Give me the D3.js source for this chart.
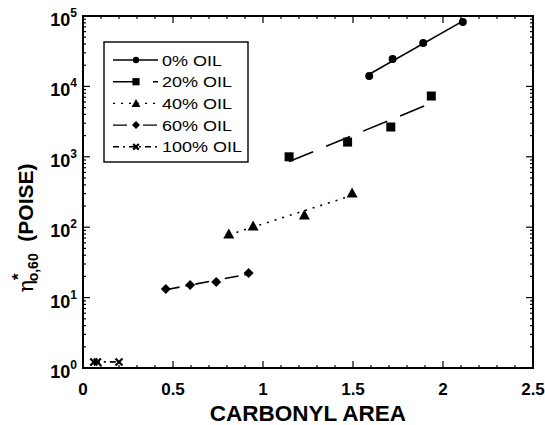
<!DOCTYPE html>
<html>
<head>
<meta charset="utf-8">
<script src="https://cdn.jsdelivr.net/npm/d3@7"></script>
<style>
  body { margin: 0; background: #fff; }
  text { font-family: "Liberation Sans", Arial, sans-serif; }
</style>
</head>
<body>
<div id="vis-holder"></div>
<script>
// values
const seriesNames = ["0% OIL", "20% OIL", "40% OIL", "60% OIL", "100% OIL"];
const x0 = [1.59, 1.72, 1.89, 2.11];
const y0 = [14000, 24500, 41500, 82000];
const x20 = [1.145, 1.47, 1.71, 1.935];
const y20 = [1000, 1620, 2650, 7300];
const x40 = [0.81, 0.945, 1.23, 1.495];
const y40 = [80, 104, 149, 306];
const x60 = [0.46, 0.595, 0.74, 0.92];
const y60 = [13.2, 15.1, 16.7, 22.3];
const x100 = [0.06, 0.08, 0.2];
const y100 = [1.22, 1.22, 1.22];
const xTicks = [0, 0.5, 1, 1.5, 2, 2.5];
const yDecades = [0, 1, 2, 3, 4, 5];

const width = 545, height = 425;
const margin = { top: 16, right: 12, bottom: 57, left: 83 };

const svg = d3.select("#vis-holder").append("svg")
  .attr("width", width).attr("height", height);

const x = d3.scaleLinear().domain([0, 2.5]).range([margin.left, width - margin.right]);
const y = d3.scaleLog().domain([1, 1e5]).range([height - margin.bottom, margin.top]);

const series = [
  { name: seriesNames[0], xs: x0, ys: y0, sym: "circle", dash: null },
  { name: seriesNames[1], xs: x20, ys: y20, sym: "square", dash: "26,14" },
  { name: seriesNames[2], xs: x40, ys: y40, sym: "triangle", dash: "2,6" },
  { name: seriesNames[3], xs: x60, ys: y60, sym: "diamond", dash: "14,6,4,6" },
  { name: seriesNames[4], xs: x100, ys: y100, sym: "cross", dash: "6,4,2,4" }
];

// frame
const x1 = x.range()[0], x2 = x.range()[1], yb = y.range()[0], yt = y.range()[1];
svg.append("rect")
  .attr("x", x1).attr("y", yt).attr("width", x2 - x1).attr("height", yb - yt)
  .attr("fill", "none").attr("stroke", "#000").attr("stroke-width", 2);

// inward ticks
const ticks = svg.append("g").attr("stroke", "#000");
d3.range(0, 2.501, 0.1).forEach(v => {
  const major = Math.abs(v * 2 - Math.round(v * 2)) < 1e-6;
  const len = major ? 7 : 3;
  ticks.append("line").attr("x1", x(v)).attr("x2", x(v)).attr("y1", yb).attr("y2", yb - len).attr("stroke-width", 1.2);
  ticks.append("line").attr("x1", x(v)).attr("x2", x(v)).attr("y1", yt).attr("y2", yt + len).attr("stroke-width", 1.2);
});
yDecades.slice(0, -1).forEach(d => {
  d3.range(1, 10).forEach(m => {
    const v = m * Math.pow(10, d);
    const len = m === 1 ? 7 : 3;
    ticks.append("line").attr("x1", x1).attr("x2", x1 + len).attr("y1", y(v)).attr("y2", y(v)).attr("stroke-width", 1.2);
    ticks.append("line").attr("x1", x2).attr("x2", x2 - len).attr("y1", y(v)).attr("y2", y(v)).attr("stroke-width", 1.2);
  });
});

// tick labels
svg.append("g").selectAll("text").data(xTicks).join("text")
  .attr("x", d => x(d)).attr("y", yb + 27)
  .attr("text-anchor", "middle").attr("font-size", 17).attr("font-weight", "bold")
  .text(d => d);

const yl = svg.append("g").selectAll("text").data(yDecades).join("text")
  .attr("x", x1 - 6).attr("y", d => y(Math.pow(10, d)) + 10)
  .attr("text-anchor", "end").attr("font-size", 18).attr("font-weight", "bold");
yl.append("tspan").text("10");
yl.append("tspan").attr("dy", -9).attr("font-size", 12).text(d => d);

// axis titles
svg.append("text")
  .attr("x", (x1 + x2) / 2).attr("y", height - 4)
  .attr("text-anchor", "middle").attr("font-size", 22.5).attr("font-weight", "bold")
  .text("CARBONYL AREA");

const yt_ = svg.append("text")
  .attr("transform", `translate(33, ${(yt + yb) / 2 + 36}) rotate(-90)`)
  .attr("text-anchor", "middle").attr("font-size", 21).attr("font-weight", "bold");
yt_.append("tspan").attr("font-weight", "normal").attr("font-family", "DejaVu Serif").text("η");
yt_.append("tspan").attr("dy", -9).attr("font-size", 17).text("*");
yt_.append("tspan").attr("dy", 14).attr("dx", -8).attr("font-size", 14).text("o,60");
yt_.append("tspan").attr("dy", -5).text("\u00a0\u00a0(POISE)");

// symbols
function symbol(g, type, cx, cy, s) {
  s = s || 1;
  if (type === "circle") {
    g.append("circle").attr("cx", cx).attr("cy", cy).attr("r", 4 * s).attr("fill", "#000");
  } else if (type === "square") {
    g.append("rect").attr("x", cx - 4.5 * s).attr("y", cy - 4.5 * s).attr("width", 9 * s).attr("height", 9 * s).attr("fill", "#000");
  } else if (type === "triangle") {
    const r = 5.5 * s;
    g.append("path").attr("d", `M${cx},${cy - r}L${cx + r},${cy + r * 0.8}L${cx - r},${cy + r * 0.8}Z`).attr("fill", "#000");
  } else if (type === "diamond") {
    const r = 5 * s;
    g.append("path").attr("d", `M${cx},${cy - r}L${cx + r},${cy}L${cx},${cy + r}L${cx - r},${cy}Z`).attr("fill", "#000");
  } else if (type === "cross") {
    const r = 3.5 * s;
    g.append("path").attr("d", `M${cx - r},${cy - r}L${cx + r},${cy + r}M${cx - r},${cy + r}L${cx + r},${cy - r}`)
      .attr("stroke", "#000").attr("stroke-width", 2.2);
  }
}

// regression lines in log space, then the points
const plot = svg.append("g");
series.forEach(s => {
  const ly = s.ys.map(v => Math.log10(v));
  const mx = d3.mean(s.xs), my = d3.mean(ly);
  let sxy = 0, sxx = 0;
  s.xs.forEach((v, i) => { sxy += (v - mx) * (ly[i] - my); sxx += (v - mx) * (v - mx); });
  const b = sxy / sxx, a = my - b * mx;
  const xa = d3.min(s.xs), xb = d3.max(s.xs);
  plot.append("line")
    .attr("x1", x(xa)).attr("y1", y(Math.pow(10, a + b * xa)))
    .attr("x2", x(xb)).attr("y2", y(Math.pow(10, a + b * xb)))
    .attr("stroke", "#000").attr("stroke-width", 1.6)
    .attr("stroke-dasharray", s.dash);
  s.xs.forEach((v, i) => symbol(plot, s.sym, x(v), y(s.ys[i])));
});

// legend
const leg = svg.append("g");
leg.append("rect").attr("x", 104).attr("y", 42).attr("width", 144).attr("height", 120)
  .attr("fill", "#fff").attr("stroke", "#000").attr("stroke-width", 1.4);
series.forEach((s, i) => {
  const ry = 60 + i * 21.7;
  leg.append("line").attr("x1", 113).attr("x2", 158).attr("y1", ry).attr("y2", ry)
    .attr("stroke", "#000").attr("stroke-width", 1.4).attr("stroke-dasharray", s.dash);
  symbol(leg, s.sym, 136, ry, 0.8);
  leg.append("text").attr("transform", `translate(162, ${ry + 5.5}) scale(1.2, 1)`)
    .attr("font-size", 15).text(s.name);
});
</script>
</body>
</html>
